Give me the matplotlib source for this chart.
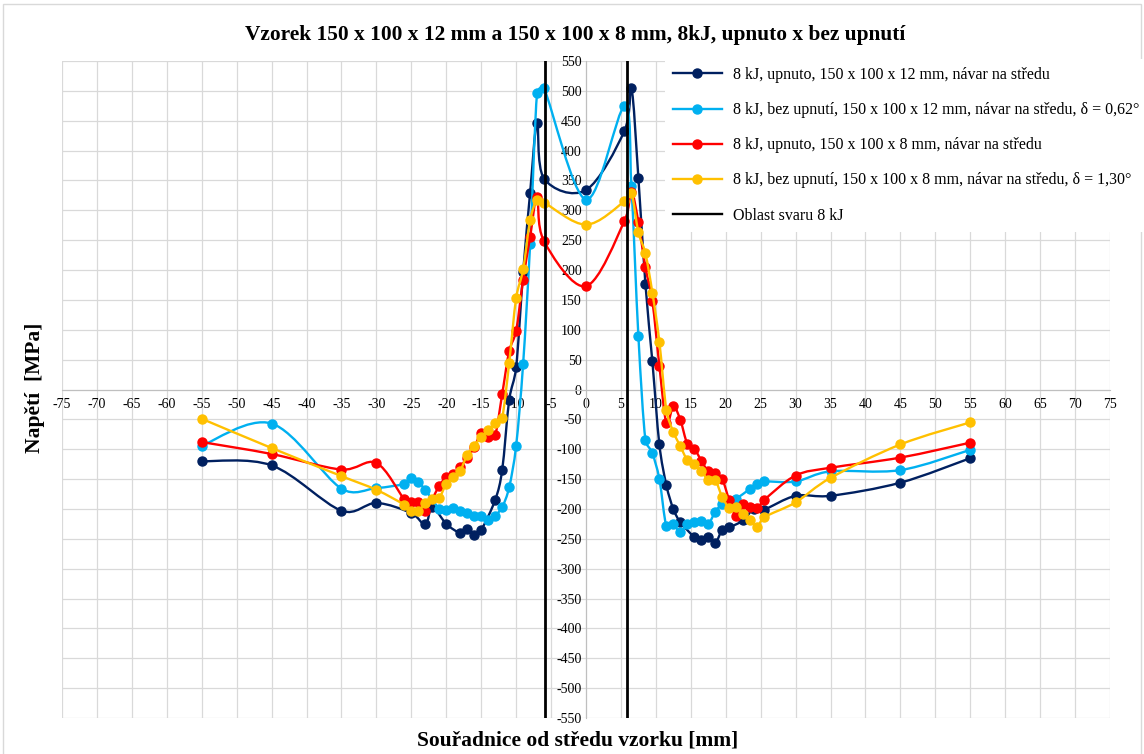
import matplotlib
matplotlib.use("Agg")
import matplotlib.pyplot as plt
from matplotlib.path import Path
from matplotlib.patches import PathPatch, Rectangle
from matplotlib.lines import Line2D
import numpy as np

plt.rcParams['font.family'] = ['Liberation Serif', 'DejaVu Serif']
plt.rcParams['axes.unicode_minus'] = False

# 8 kJ, upnuto, 12 mm
navy_x = [-55, -45, -35, -30, -25, -23, -22, -20, -18, -17, -16, -15, -13, -12, -11, -10, -9, -8, -7, -6,
          0, 5.5, 6.5, 7.5, 8.5, 9.5, 10.5, 11.5, 12.5, 13.5, 15.5, 16.5, 17.5, 18.5, 19.5, 20.5, 22.5, 24,
          25.5, 30, 35, 45, 55]
navy_y = [-120, -127, -203, -190, -207, -226, -197, -225, -240, -233, -243, -235, -185, -135, -18, 37, 196,
          329, 446, 353, 334, 433, 504, 354, 177, 47, -92, -160, -200, -222, -247, -252, -247, -257, -235,
          -231, -219, -200, -201, -178, -178, -156, -115]

# 8 kJ, bez upnuti, 12 mm
blue_x = [-55, -45, -35, -30, -26, -25, -24, -23, -21, -20, -19, -18, -17, -16, -15, -14, -13, -12, -11, -10,
          -9, -8, -7, -6, 0, 5.5, 6.5, 7.5, 8.5, 9.5, 10.5, 11.5, 12.5, 13.5, 14.5, 15.5, 16.5, 17.5, 18.5,
          19.5, 20.5, 21.5, 23.5, 24.5, 25.5, 30, 35, 45, 55]
blue_y = [-94, -57, -166, -165, -158, -149, -155, -168, -200, -201, -198, -203, -207, -211, -211, -219, -211,
          -197, -164, -94, 43, 243, 497, 504, 318, 474, 340, 89, -84, -107, -150, -229, -226, -239, -226,
          -222, -221, -225, -205, -191, -188, -183, -166, -158, -154, -154, -137, -135, -101]

# 8 kJ, upnuto, 8 mm
red_x = [-55, -45, -35, -30, -26, -25, -24, -23, -21, -20, -19, -18, -17, -16, -15, -14, -13, -12, -11, -10,
         -9, -8, -7, -6, 0, 5.5, 6.5, 7.5, 8.5, 9.5, 10.5, 11.5, 12.5, 13.5, 14.5, 15.5, 16.5, 17.5, 18.5,
         19.5, 20.5, 21.5, 22.5, 23.5, 24.5, 25.5, 30, 35, 45, 55]
red_y = [-88, -108, -134, -123, -184, -189, -189, -203, -161, -147, -141, -129, -114, -97, -73, -80, -77, -8,
         64, 98, 184, 255, 323, 248, 173, 282, 330, 280, 205, 148, 40, -56, -28, -51, -91, -99, -119, -137,
         -140, -150, -185, -211, -192, -196, -199, -185, -144, -131, -114, -89]

# 8 kJ, bez upnuti, 8 mm
yellow_x = [-55, -45, -35, -30, -26, -25, -24, -23, -22, -21, -20, -19, -18, -17, -16, -15, -14, -13, -12,
            -11, -10, -9, -8, -7, -6, 0, 5.5, 6.5, 7.5, 8.5, 9.5, 10.5, 11.5, 12.5, 13.5, 14.5, 15.5, 16.5,
            17.5, 18.5, 19.5, 20.5, 21.5, 22.5, 23.5, 24.5, 25.5, 30, 35, 45, 55]
yellow_y = [-49, -98, -145, -168, -193, -203, -203, -190, -183, -181, -158, -147, -136, -109, -94, -80, -68,
            -56, -47, 44, 153, 201, 283, 318, 313, 276, 315, 329, 263, 228, 162, 80, -34, -71, -95, -118,
            -125, -137, -151, -152, -180, -198, -197, -208, -218, -231, -214, -189, -148, -92, -55]

weld_x = [-5.8, 5.8]
weld_y = [-550, 550]

labels = ["8 kJ, upnuto, 150 x 100 x 12 mm, návar na středu",
          "8 kJ, bez upnutí, 150 x 100 x 12 mm, návar na středu, δ = 0,62°",
          "8 kJ, upnuto, 150 x 100 x 8 mm, návar na středu",
          "8 kJ, bez upnutí, 150 x 100 x 8 mm, návar na středu, δ = 1,30°",
          "Oblast svaru 8 kJ"]
colors = ['#002060', '#00B0F0', '#FF0000', '#FFC000']

# rough px per data unit, so the smoothing works in screen proportions
SX, SY = 6.97, 0.597


def smooth_path(xs, ys, clamp=0.45):
    # excel-like smoothed line: catmull-rom bezier, control arms clamped to the segment length
    p = np.column_stack([np.array(xs) * SX, np.array(ys) * SY]).astype(float)
    n = len(p)
    verts = [p[0]]
    codes = [Path.MOVETO]
    for i in range(n - 1):
        L = np.hypot(*(p[i + 1] - p[i]))
        p0 = p[i - 1] if i > 0 else p[i]
        p3 = p[i + 2] if i + 2 < n else p[i + 1]
        a1 = (p[i + 1] - p0) / 6
        a2 = (p3 - p[i]) / 6
        for a in (a1, a2):
            la = np.hypot(*a)
            if la > clamp * L:
                a *= clamp * L / la
        verts += [p[i] + a1, p[i + 1] - a2, p[i + 1]]
        codes += [Path.CURVE4] * 3
    verts = np.array(verts) / [SX, SY]
    return Path(verts, codes)


fig = plt.figure(figsize=(11.44, 7.54), dpi=100)
fig.patches.append(Rectangle((3 / 1144, -0.01), 1138 / 1144, 1 - 4 / 754 + 0.01, transform=fig.transFigure,
                             fill=False, edgecolor='#D9D9D9', lw=1))
ax = fig.add_axes([62 / 1144, 1 - 718 / 754, (1110 - 62) / 1144, (718 - 61) / 754])

ax.set_xlim(-75, 75)
ax.set_ylim(-550, 550)
ax.set_xticks(range(-75, 76, 5))
ax.set_yticks(range(-550, 551, 50))
ax.grid(True, color='#D9D9D9', lw=0.9)
ax.set_axisbelow(True)
for s in ['top', 'right']:
    ax.spines[s].set_visible(False)
ax.spines['left'].set_position(('data', 0))
ax.spines['bottom'].set_position(('data', 0))
ax.spines['left'].set_color('#BFBFBF')
ax.spines['bottom'].set_color('#BFBFBF')
ax.tick_params(length=0, labelsize=10, pad=3)
ax.tick_params(axis='x', pad=6)

series = [(navy_x, navy_y), (blue_x, blue_y), (red_x, red_y), (yellow_x, yellow_y)]
handles = []
for k, ((xs, ys), c) in enumerate(zip(series, colors)):
    ax.add_patch(PathPatch(smooth_path(xs, ys), facecolor='none', edgecolor=c, lw=1.7, zorder=3 + k,
                           capstyle='round'))
    ax.plot(xs, ys, 'o', color=c, ms=6.5, zorder=3 + k)
    handles.append(Line2D([], [], color=c, lw=1.7, marker='o', ms=6.5))

for wx in weld_x:
    ax.plot([wx, wx], weld_y, color='black', lw=2, zorder=10)
handles.append(Line2D([], [], color='black', lw=1.7))

leg = fig.legend(handles, labels, loc='upper left', bbox_to_anchor=(665 / 1144, 1 - 59 / 754),
                 fontsize=11.5, handlelength=3.05, handletextpad=0.7, labelspacing=1.2,
                 frameon=True, fancybox=False, borderpad=0.5, borderaxespad=0)
leg.get_frame().set_facecolor('white')
leg.get_frame().set_edgecolor('none')
leg.get_frame().set_alpha(1)

fig.text(575 / 1144, 1 - 35 / 754, "Vzorek 150 x 100 x 12 mm a 150 x 100 x 8 mm, 8kJ, upnuto x bez upnutí",
         ha='center', va='center', fontsize=15.4, fontweight='bold')
fig.text(35 / 1144, 1 - 388 / 754, "Napětí  [MPa]", rotation=90, ha='center', va='center',
         fontsize=15.5, fontweight='bold')
fig.text(578 / 1144, 1 - 740 / 754, "Souřadnice od středu vzorku [mm]", ha='center', va='center',
         fontsize=15.5, fontweight='bold')

fig.savefig("out.png", dpi=100)
